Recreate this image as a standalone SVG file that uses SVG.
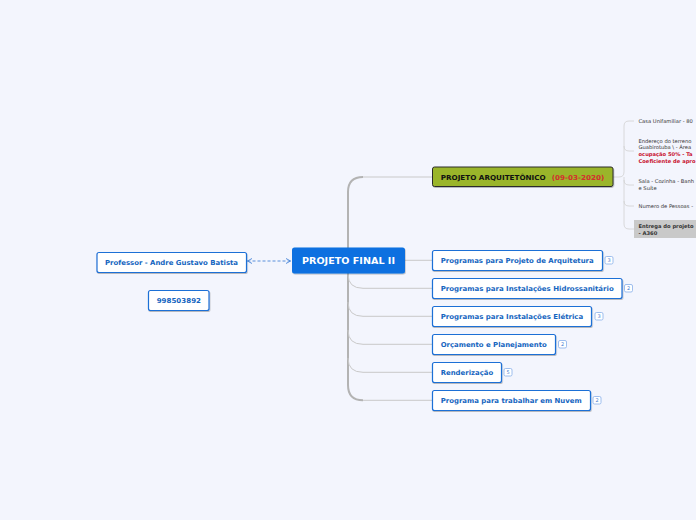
<svg xmlns="http://www.w3.org/2000/svg" width="696" height="520" viewBox="0 0 696 520">
<defs>
<style>
.bg{fill:#f3f5fd}
.trunk{fill:none;stroke:#b3b3b3;stroke-width:2}
.br{fill:none;stroke:#c9c9c9;stroke-width:1}
.sbr{fill:none;stroke:#d0d0d0;stroke-width:0.8}
.node{fill:#ffffff;stroke:#1f6fd6;stroke-width:1.2}
.lbl{font-family:"DejaVu Sans",Verdana,sans-serif;font-weight:bold;font-size:6.8px;fill:#1565c0}
.badge{fill:#ffffff;stroke:#86aeea;stroke-width:0.8}
.bt{font-family:"DejaVu Sans",sans-serif;font-size:5px;fill:#4a80d0;text-anchor:middle}
.sub{font-family:"DejaVu Sans",sans-serif;font-size:5.2px;fill:#333333}
.red{font-family:"DejaVu Sans",sans-serif;font-size:5.2px;font-weight:bold;fill:#c8102e}
.dash{fill:none;stroke:#4a86d8;stroke-width:0.9;stroke-dasharray:3,2}
</style>
<filter id="sh" x="-10%" y="-20%" width="120%" height="160%">
<feDropShadow dx="0.6" dy="1" stdDeviation="0.6" flood-color="#000" flood-opacity="0.25"/>
</filter>
<marker id="ah" viewBox="0 0 6 6" refX="5.5" refY="3" markerWidth="6" markerHeight="6" orient="auto-start-reverse" markerUnits="userSpaceOnUse">
<path d="M1,0.5 L5.5,3 L1,5.5" fill="none" stroke="#4a86d8" stroke-width="0.9"/>
</marker>
</defs>
<rect class="bg" x="0" y="0" width="696" height="520"/>

<g id="connectors">
<path class="br" d="M363,177 L432,177"/>
<path class="br" d="M363,400.3 L432,400.3"/>
<path class="trunk" d="M363,177 Q348,177 348,192 L348,385 Q348,400.3 363,400.3"/>
<path class="br" d="M405,260.3 L432,260.3"/>
<path class="br" d="M348,274 Q348,288.3 363,288.3 L432,288.3"/>
<path class="br" d="M348,302 Q348,316.3 363,316.3 L432,316.3"/>
<path class="br" d="M348,330 Q348,344.3 363,344.3 L432,344.3"/>
<path class="br" d="M348,358 Q348,372.3 363,372.3 L432,372.3"/>
<path class="dash" d="M247.5,261 L290.5,261" marker-start="url(#ah)" marker-end="url(#ah)"/>
<path class="sbr" d="M613,177 L619,177 Q624,177 624,172 L624,126 Q624,121 629,121 L634,121"/>
<path class="sbr" d="M624,146 Q624,151 629,151 L634,151"/>
<path class="sbr" d="M624,177 L624,180 Q624,185 629,185 L634,185"/>
<path class="sbr" d="M624,180 L624,201 Q624,206 629,206 L634,206"/>
<path class="sbr" d="M624,201 L624,224 Q624,229 629,229 L634,229"/>
</g>

<g id="central">
<rect x="292" y="247.5" width="113" height="26" rx="2.5" fill="#0a6fe0" filter="url(#sh)"/>
<text x="348.5" y="264" text-anchor="middle" font-family="DejaVu Sans,sans-serif" font-weight="bold" font-size="9px" fill="#ffffff" textLength="93" lengthAdjust="spacingAndGlyphs">PROJETO FINAL II</text>
</g>

<g id="professor">
<rect class="node" x="97" y="252.5" width="149.5" height="20" rx="2" filter="url(#sh)"/>
<text class="lbl" x="105" y="265" textLength="133" lengthAdjust="spacingAndGlyphs">Professor - Andre Gustavo Batista</text>
</g>

<g id="phone">
<rect class="node" x="148.5" y="290.5" width="60.5" height="20" rx="2" filter="url(#sh)"/>
<text class="lbl" x="156.7" y="303" textLength="44.3" lengthAdjust="spacingAndGlyphs">998503892</text>
</g>

<g id="arquitetonico">
<rect x="432.5" y="167" width="180.5" height="19.5" rx="2" fill="#9ab52a" stroke="#2a2a2a" stroke-width="1" filter="url(#sh)"/>
<text x="440.7" y="179.5" font-family="DejaVu Sans,sans-serif" font-weight="bold" font-size="6.8px" fill="#111111" textLength="105" lengthAdjust="spacingAndGlyphs">PROJETO ARQUITETÔNICO</text>
<text x="551.7" y="179.5" font-family="DejaVu Sans,sans-serif" font-weight="bold" font-size="6.8px" fill="#d32f2f" textLength="52.6" lengthAdjust="spacingAndGlyphs">(09-03-2020)</text>
</g>

<g id="sub-casa">
<text class="sub" x="638.5" y="122.8">Casa Unifamiliar - 80</text>
</g>
<g id="sub-endereco">
<text class="sub" x="638.5" y="142.5">Endereço do terreno</text>
<text class="sub" x="638.5" y="149">Guabirotuba \ - Área</text>
<text class="red" x="638.5" y="155.8">ocupação 50% - Ta</text>
<text class="red" x="638.5" y="162.5">Coeficiente de apro</text>
</g>
<g id="sub-sala">
<text class="sub" x="638.5" y="183">Sala - Cozinha - Banh</text>
<text class="sub" x="638.5" y="189.5">e Suíte</text>
</g>
<g id="sub-pessoas">
<text class="sub" x="638.5" y="208">Numero de Pessoas -</text>
</g>
<g id="sub-entrega">
<rect x="634" y="220" width="70" height="18" fill="#c9c9c9"/>
<text class="sub" x="638.5" y="228" font-weight="bold" fill="#111">Entrega do projeto</text>
<text class="sub" x="638.5" y="234.5" font-weight="bold" fill="#111">- A360</text>
</g>

<g id="n1">
<rect class="node" x="432.5" y="250.5" width="170" height="20" rx="2" filter="url(#sh)"/>
<text class="lbl" x="440.7" y="263" textLength="153" lengthAdjust="spacingAndGlyphs">Programas para Projeto de Arquitetura</text>
<rect class="badge" x="605" y="256.5" width="8" height="7.5" rx="1.5"/>
<text class="bt" x="609" y="262">3</text>
</g>

<g id="n2">
<rect class="node" x="432.5" y="278.5" width="189.5" height="20" rx="2" filter="url(#sh)"/>
<text class="lbl" x="440.7" y="291" textLength="173" lengthAdjust="spacingAndGlyphs">Programas para Instalações Hidrossanitário</text>
<rect class="badge" x="624.5" y="284.5" width="8" height="7.5" rx="1.5"/>
<text class="bt" x="628.5" y="290">2</text>
</g>

<g id="n3">
<rect class="node" x="432.5" y="306.5" width="159" height="20" rx="2" filter="url(#sh)"/>
<text class="lbl" x="440.7" y="319" textLength="142.5" lengthAdjust="spacingAndGlyphs">Programas para Instalações Elétrica</text>
<rect class="badge" x="595" y="312.5" width="8" height="7.5" rx="1.5"/>
<text class="bt" x="599" y="318">3</text>
</g>

<g id="n4">
<rect class="node" x="432.5" y="334.5" width="123" height="20" rx="2" filter="url(#sh)"/>
<text class="lbl" x="440.7" y="347" textLength="106" lengthAdjust="spacingAndGlyphs">Orçamento e Planejamento</text>
<rect class="badge" x="558.5" y="340.5" width="8" height="7.5" rx="1.5"/>
<text class="bt" x="562.5" y="346">2</text>
</g>

<g id="n5">
<rect class="node" x="432.5" y="362.5" width="69" height="20" rx="2" filter="url(#sh)"/>
<text class="lbl" x="440.7" y="375" textLength="52.5" lengthAdjust="spacingAndGlyphs">Renderização</text>
<rect class="badge" x="504" y="368.5" width="8" height="7.5" rx="1.5"/>
<text class="bt" x="508" y="374">5</text>
</g>

<g id="n6">
<rect class="node" x="432.5" y="390.5" width="158" height="20" rx="2" filter="url(#sh)"/>
<text class="lbl" x="440.7" y="403" textLength="141" lengthAdjust="spacingAndGlyphs">Programa para trabalhar em Nuvem</text>
<rect class="badge" x="593" y="396.5" width="8" height="7.5" rx="1.5"/>
<text class="bt" x="597" y="402">2</text>
</g>
</svg>
